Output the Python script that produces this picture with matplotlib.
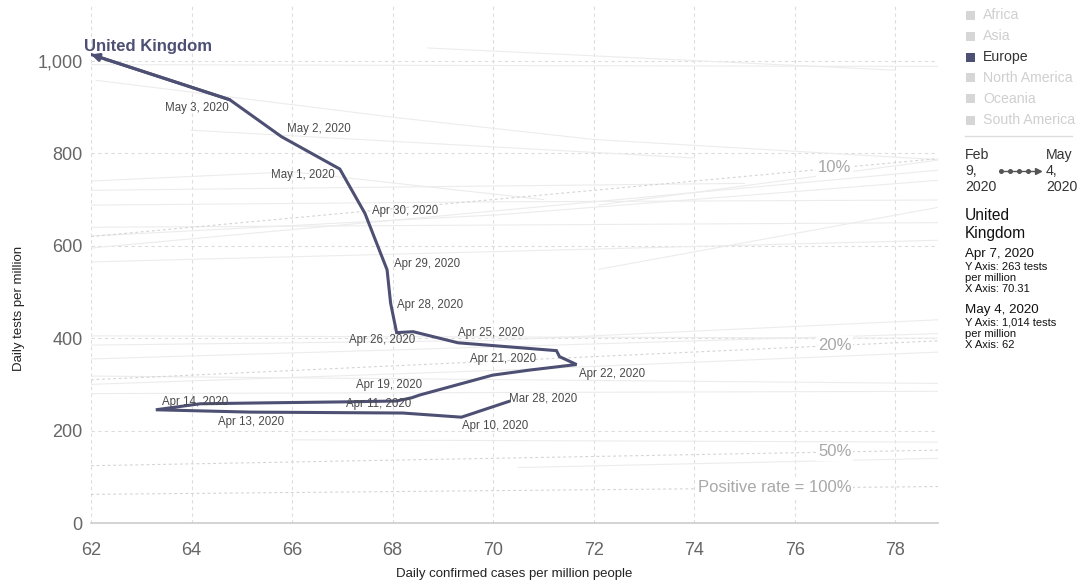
import matplotlib
matplotlib.use("Agg")
import matplotlib.pyplot as plt
from matplotlib.patches import Rectangle
from matplotlib.lines import Line2D

plt.rcParams['font.family'] = ['Liberation Sans', 'DejaVu Sans']

# United Kingdom: daily confirmed cases per million (x) vs daily tests per million (y)
uk_x = [70.31, 69.37, 68.20, 65.16, 63.29, 64.17, 65.46, 66.95, 68.08, 68.38, 68.54,
        69.99, 70.73, 71.66, 71.32, 71.26, 69.30, 68.41, 68.08, 67.96, 67.89, 67.45,
        66.95, 65.79, 64.76, 62.00]
uk_y = [263, 229, 238, 240, 245, 258, 260, 262, 264, 271, 277,
        320, 331, 343, 360, 373, 390, 414, 412, 476, 548, 670,
        766, 836, 916, 1014]

# Date labels and the path point each one belongs to
label_dates = ["Mar 28, 2020", "Apr 10, 2020", "Apr 13, 2020", "Apr 14, 2020",
               "Apr 11, 2020", "Apr 19, 2020", "Apr 21, 2020", "Apr 22, 2020",
               "Apr 25, 2020", "Apr 26, 2020", "Apr 28, 2020", "Apr 29, 2020",
               "Apr 30, 2020", "May 1, 2020", "May 2, 2020", "May 3, 2020"]
label_idx = [0, 1, 3, 5, 8, 10, 12, 13, 16, 18, 19, 20, 21, 22, 23, 24]

# Other countries, drawn faded in the background
bg_lines = [
    ([62.0, 70.0, 78.9], [992, 990, 988]),
    ([62.1, 68.1, 72.0, 78.9], [958, 877, 830, 786]),
    ([68.7, 78.0], [1028, 980]),
    ([62.0, 70.1, 78.9], [621, 667, 742]),
    ([62.0, 78.9], [595, 764]),
    ([62.0, 78.9], [565, 612]),
    ([62.0, 70.0, 78.9], [688, 695, 699]),
    ([62.0, 66.0, 71.0], [740, 760, 700]),
    ([72.1, 78.9], [688, 786]),
    ([72.1, 78.9], [549, 684]),
    ([62.0, 78.9], [640, 650]),
    ([64.0, 69.0, 74.0], [850, 820, 790]),
    ([62.0, 78.9], [405, 400]),
    ([62.0, 70.0, 78.9], [385, 395, 440]),
    ([62.0, 70.0, 78.9], [300, 330, 370]),
    ([62.0, 78.9], [318, 302]),
    ([62.0, 78.9], [355, 410]),
    ([66.0, 78.9], [180, 175]),
    ([62.0, 78.9], [280, 285]),
    ([70.5, 78.9], [120, 140]),
    ([62.0, 75.0], [720, 735]),
]

# Positive-rate reference lines (tests = cases / rate)
pos_rates = [0.10, 0.20, 0.50, 1.00]
pos_labels = ["10%", "20%", "50%", "Positive rate = 100%"]

x_ticks = [62, 64, 66, 68, 70, 72, 74, 76, 78]
y_ticks = [0, 200, 400, 600, 800, 1000]

continents = ["Africa", "Asia", "Europe", "North America", "Oceania", "South America"]
active_continent = "Europe"

uk_color = "#4d5073"
x_min, x_max = 62, 78.85
y_min, y_max = 0, 1121

fig = plt.figure(figsize=(10.79, 5.80), dpi=100)
ax = fig.add_axes([91 / 1079, 57 / 580, 847 / 1079, 518 / 580])
ax.set_xlim(x_min, x_max)
ax.set_ylim(y_min, y_max)

for s in ax.spines.values():
    s.set_visible(False)

# dashed grid
for xv in x_ticks:
    ax.plot([xv, xv], [y_min, y_max], color="#dcdcdc", lw=0.8, ls=(0, (3, 3)), zorder=1)
for yv in y_ticks[1:]:
    ax.plot([x_min, x_max], [yv, yv], color="#dcdcdc", lw=0.8, ls=(0, (3, 3)), zorder=1)
ax.plot([x_min, x_max], [0, 0], color="#cccccc", lw=1.2, zorder=2, clip_on=False)

# faded background paths
for bx, by in bg_lines:
    ax.plot(bx, by, color="#ececec", lw=0.8, zorder=1.5)

# positive-rate lines
for rate, txt in zip(pos_rates, pos_labels):
    xs = [x_min, x_max]
    ax.plot(xs, [v / rate for v in xs], color="#d4d4d4", lw=0.8, ls=(0, (2.5, 2.5)), zorder=2)
    ax.text(77.13, 76.9 / rate, txt, ha="right", va="center", fontsize=12,
            color="#a8a8a8", zorder=3,
            bbox=dict(boxstyle="square,pad=0.1", fc="white", ec="none"))

# UK path
ax.plot(uk_x, uk_y, color=uk_color, lw=2.2, solid_joinstyle="miter", zorder=5)
ax.annotate("", xy=(uk_x[-1], uk_y[-1]), xytext=(uk_x[-2], uk_y[-2]),
            arrowprops=dict(arrowstyle="-|>", color=uk_color, lw=2.2,
                            mutation_scale=11, shrinkA=0, shrinkB=0), zorder=6)
ax.annotate("United Kingdom", xy=(uk_x[-1], uk_y[-1]), xytext=(-7, 8),
            textcoords="offset pixels", ha="left", va="center", fontsize=12,
            fontweight="bold", color=uk_color, zorder=7)

# label placement (pixel offsets from the labelled point, and alignment)
label_offsets = [(0, 3, "left"), (1, -9, "left"), (1, -10, "center"), (-5, 2, "center"),
                 (15, -3, "right"), (2, 10, "right"), (6, 11, "right"), (2, -9, "left"),
                 (0, 10, "left"), (-14, -7, "center"), (6, -2, "left"), (7, 6, "left"),
                 (7, 2, "left"), (-5, -6, "right"), (5, 8, "left"), (-1, -8, "right")]
for txt, i, (dx, dy, ha) in zip(label_dates, label_idx, label_offsets):
    ax.annotate(txt, xy=(uk_x[i], uk_y[i]), xytext=(dx, dy), textcoords="offset pixels",
                ha=ha, va="center", fontsize=8.3, color="#4a4a4a", zorder=7)

# ticks and axis labels
ax.set_xticks(x_ticks)
ax.set_yticks(y_ticks)
ax.set_yticklabels([f"{v:,}" for v in y_ticks])
ax.tick_params(axis="both", length=0, labelsize=13, labelcolor="#666666")
ax.tick_params(axis="y", pad=6)
ax.tick_params(axis="x", pad=14)
ax.set_xlabel("Daily confirmed cases per million people", fontsize=9.5, color="#222222",
              labelpad=6)
fig.text(19 / 1079, 1 - 308 / 580, "Daily tests per million", rotation=90, ha="center",
         va="center", fontsize=9.5, color="#222222")

# continent legend
for k, name in enumerate(continents):
    yc = 1 - (15 + 21 * k) / 580
    on = name == active_continent
    fig.patches.append(Rectangle((966 / 1079, yc - 4.5 / 580), 9 / 1079, 9 / 580,
                                 transform=fig.transFigure,
                                 fc=uk_color if on else "#d6d6d6", ec="none"))
    fig.text(983 / 1079, yc, name, ha="left", va="center", fontsize=10.2,
             color="#333333" if on else "#cfcfcf")
fig.add_artist(Line2D([965 / 1079, 1072 / 1079], [1 - 136 / 580, 1 - 136 / 580],
                      color="#dddddd", lw=1))

# time range
for j, s in enumerate(["Feb", "9,", "2020"]):
    fig.text(965 / 1079, 1 - (155 + 16 * j) / 580, s, ha="left", va="center",
             fontsize=10.2, color="#333333")
for j, s in enumerate(["May", "4,", "2020"]):
    fig.text(1046 / 1079, 1 - (155 + 16 * j) / 580, s, ha="left", va="center",
             fontsize=10.2, color="#333333")
ty = 1 - 171 / 580
fig.add_artist(Line2D([1000 / 1079, 1036 / 1079], [ty, ty], color="#555555", lw=1))
fig.add_artist(Line2D([1001 / 1079, 1010 / 1079, 1019 / 1079, 1028 / 1079], [ty] * 4,
                      color="#555555", lw=0, marker="o", markersize=2.6))
fig.add_artist(Line2D([1038 / 1079], [ty], color="#555555", lw=0, marker=">",
                      markersize=5))

# selected-country details
fig.text(965 / 1079, 1 - 215 / 580, "United", ha="left", va="center", fontsize=11.2,
         color="#111111")
fig.text(965 / 1079, 1 - 233 / 580, "Kingdom", ha="left", va="center", fontsize=11.2,
         color="#111111")
detail_rows = [("Apr 7, 2020", 254, 9.6), ("Y Axis: 263 tests", 267, 8.0),
               ("per million", 278, 8.0), ("X Axis: 70.31", 289, 8.0),
               ("May 4, 2020", 310, 9.6), ("Y Axis: 1,014 tests", 323, 8.0),
               ("per million", 334, 8.0), ("X Axis: 62", 345, 8.0)]
for s, py, fs in detail_rows:
    fig.text(965 / 1079, 1 - py / 580, s, ha="left", va="center", fontsize=fs,
             color="#111111")

fig.savefig("out.png", dpi=100, facecolor="white")
